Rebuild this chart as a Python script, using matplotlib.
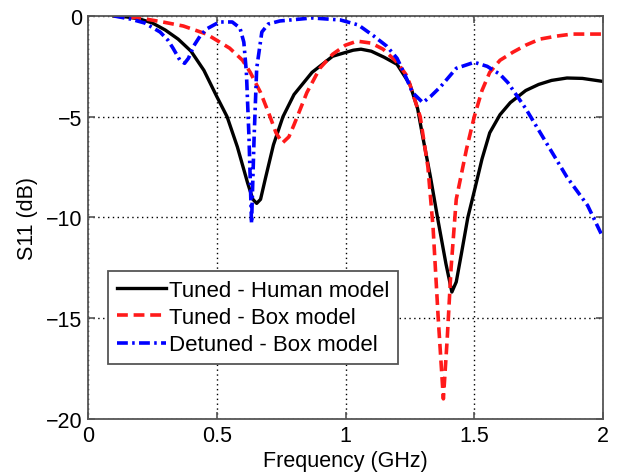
import matplotlib.pyplot as plt
from matplotlib.ticker import FormatStrFormatter

plt.rcParams['font.family'] = ['Liberation Sans', 'DejaVu Sans']

# Tuned - Human model
f_human = [0.1, 0.15, 0.2, 0.25, 0.3, 0.35, 0.4, 0.45, 0.5, 0.54, 0.58, 0.62, 0.64,
           0.655, 0.67, 0.69, 0.72, 0.757, 0.8, 0.87, 0.95, 1.03, 1.06, 1.1, 1.15,
           1.2, 1.25, 1.28, 1.3, 1.33, 1.36, 1.39, 1.413, 1.43, 1.45, 1.475, 1.5,
           1.53, 1.56, 1.6, 1.64, 1.7, 1.75, 1.8, 1.86, 1.92, 2.0]
s_human = [0.0, -0.05, -0.15, -0.35, -0.7, -1.15, -1.75, -2.7, -4.0, -5.0, -6.5, -8.3, -9.1,
           -9.3, -9.1, -8.0, -6.4, -5.0, -3.9, -2.8, -2.0, -1.7, -1.65, -1.75, -2.05,
           -2.4, -3.4, -4.6, -6.0, -8.0, -10.2, -12.3, -13.7, -13.2, -11.8, -10.0, -8.7,
           -7.1, -5.8, -4.9, -4.3, -3.7, -3.4, -3.2, -3.08, -3.1, -3.25]

# Tuned - Box model
f_box = [0.1, 0.2, 0.29, 0.37, 0.46, 0.55, 0.6, 0.63, 0.67, 0.707, 0.73, 0.755, 0.78,
         0.8, 0.85, 0.9, 0.95, 1.0, 1.045, 1.1, 1.146, 1.2, 1.24, 1.29, 1.32, 1.34,
         1.36, 1.38, 1.395, 1.41, 1.43, 1.47, 1.5, 1.53, 1.56, 1.6, 1.65, 1.7, 1.755,
         1.82, 1.88, 2.0]
s_box = [0.0, -0.1, -0.3, -0.5, -0.9, -1.6, -2.2, -2.8, -3.8, -5.0, -5.8, -6.3, -6.0,
         -5.4, -3.8, -2.6, -1.9, -1.45, -1.25, -1.35, -1.65, -2.3, -3.0, -5.0, -7.5, -10.5,
         -15.0, -19.0, -16.0, -12.5, -9.1, -6.6, -5.0, -3.7, -2.8, -2.2, -1.8, -1.45, -1.15,
         -1.0, -0.9, -0.9]

# Detuned - Box model
f_detuned = [0.1, 0.163, 0.22, 0.28, 0.31, 0.33, 0.357, 0.375, 0.39, 0.41, 0.435, 0.46,
             0.51, 0.56, 0.59, 0.605, 0.615, 0.625, 0.635, 0.645, 0.655, 0.675, 0.7,
             0.745, 0.87, 0.98, 1.05, 1.11, 1.16, 1.2, 1.23, 1.26, 1.3, 1.33, 1.37,
             1.43, 1.5, 1.55, 1.6, 1.63, 1.7, 1.78, 1.86, 1.94, 2.0]
s_detuned = [0.0, -0.15, -0.35, -0.8, -1.2, -1.6, -2.2, -2.35, -2.1, -1.5, -1.0, -0.65,
             -0.3, -0.3, -0.6, -1.3, -2.8, -6.0, -10.3, -6.0, -2.6, -0.8, -0.4,
             -0.25, -0.1, -0.2, -0.45, -1.0, -1.5, -2.1, -2.9, -3.8, -4.3, -4.0, -3.5,
             -2.6, -2.3, -2.5, -2.9, -3.3, -4.6, -6.3, -8.0, -9.4, -11.0]

labels = ["Tuned - Human model", "Tuned - Box model", "Detuned - Box model"]

fig = plt.figure(figsize=(6.2, 4.77), dpi=100)
ax = fig.add_axes([0.142, 0.1195, 0.8306, 0.845])

ax.plot(f_human, s_human, color="black", lw=2.4, label=labels[0])
ax.plot(f_box, s_box, color="#ff1a1a", lw=2.6, linestyle=(0, (3, 1.6)), label=labels[1])
ax.plot(f_detuned, s_detuned, color="#0000ff", lw=2.6, linestyle=(0, (3, 1.2, 0.7, 1.2)),
        label=labels[2])

ax.set_xlim(0, 2)
ax.set_ylim(-20, 0)
ax.set_xticks([0, 0.5, 1, 1.5, 2])
ax.set_yticks([-20, -15, -10, -5, 0])
ax.xaxis.set_major_formatter(FormatStrFormatter('%g'))
ax.grid(True, color="black", linestyle=(0, (1, 2.5)), linewidth=1.0)
ax.tick_params(direction="in", top=True, right=True, labelsize=15.5, colors="#555555",
               labelcolor="black", length=5, width=1.2, pad=4)
for sp in ax.spines.values():
    sp.set_color("#555555")
    sp.set_linewidth(1.3)

ax.set_xlabel("Frequency (GHz)", fontsize=15.5, labelpad=3)
ax.set_ylabel("S11 (dB)", fontsize=15.5, labelpad=6)

leg = ax.legend(loc="lower left", bbox_to_anchor=(0.039, 0.136), borderaxespad=0,
                fontsize=16, fancybox=False, edgecolor="#555555", framealpha=1,
                handlelength=2.2, handletextpad=0.15, labelspacing=0.28,
                borderpad=0.4)
leg.get_frame().set_linewidth(1.3)

fig.savefig("out.png", dpi=100)
